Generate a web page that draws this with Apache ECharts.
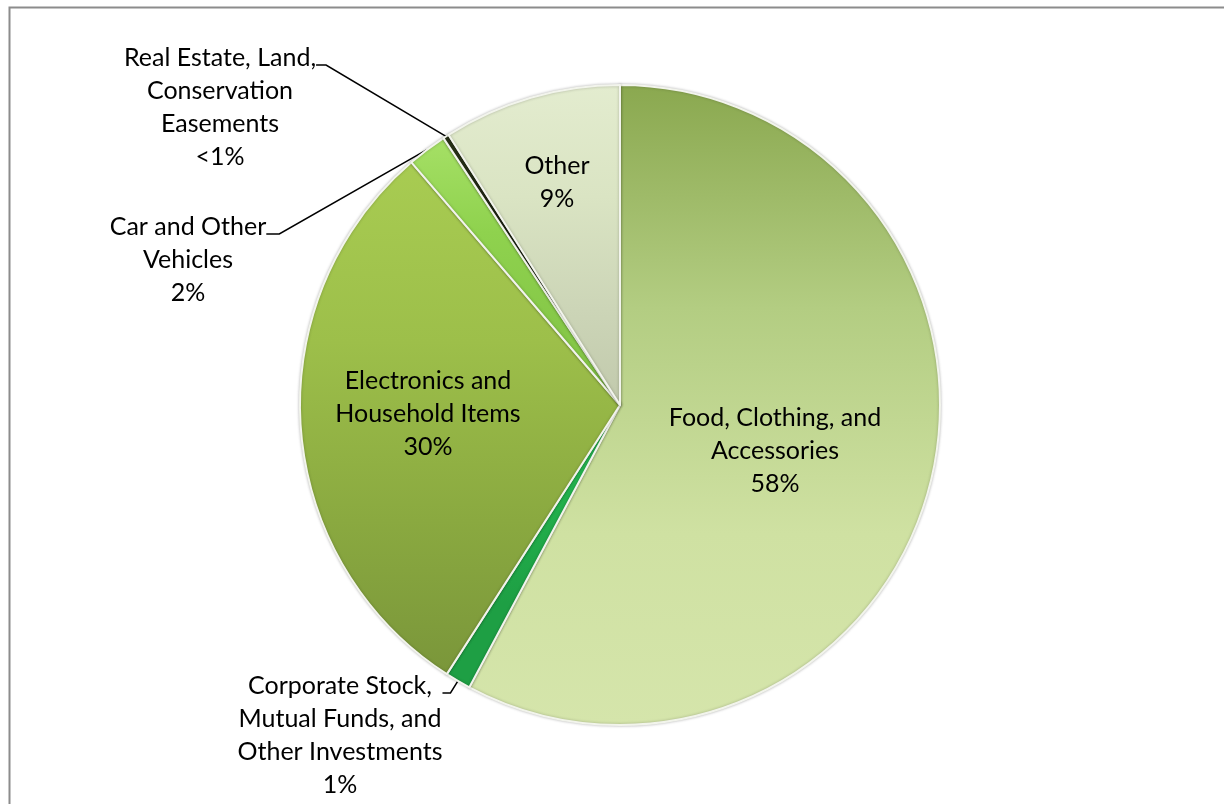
<!DOCTYPE html>
<html><head><meta charset="utf-8">
<script src="https://cdn.jsdelivr.net/npm/echarts@6/dist/echarts.min.js"></script>
<style>html,body{margin:0;padding:0;background:#fff}#c{width:1224px;height:804px}</style>
</head><body><div id="c"></div>
<script>
// ---- data ----
const categories = [
  'Food, Clothing, and Accessories',
  'Corporate Stock, Mutual Funds, and Other Investments',
  'Electronics and Household Items',
  'Car and Other Vehicles',
  'Real Estate, Land, Conservation Easements',
  'Other'
];
const values = [57.8, 1.3, 29.6, 2.0, 0.3, 9.0];
const percentLabels = ['58%', '1%', '30%', '2%', '<1%', '9%'];
const labelTextLines = [
  ['Food, Clothing, and', 'Accessories'],
  ['Corporate Stock,', 'Mutual Funds, and', 'Other Investments'],
  ['Electronics and', 'Household Items'],
  ['Car and Other', 'Vehicles'],
  ['Real Estate, Land,', 'Conservation', 'Easements'],
  ['Other']
];

// ---- styles / layout (kept separate from data) ----
const sliceGradients = [
  ['#8aa84f', '#b3cd82', '#cfe1a2', '#d5e5ab'],
  ['#2cc158', '#22b04c', '#1e9f44', '#1e9f44'],
  ['#a8cc52', '#9dbf4a', '#8aa940', '#7a963a'],
  ['#a6e066', '#8fd24e', '#86c848', '#86c848'],
  ['#2b3519', '#1e2612', '#1e2612', '#1e2612'],
  ['#e3eccf', '#dae4c3', '#ccd5b7', '#c1c9ac']
];
const insideSlices = [true, false, true, false, false, true];
// label anchor (block centre for inside labels, leader-line level for outside labels)
const labelAnchors = [[775, 451], [340, 693], [428, 414], [188, 234], [220, 65], [557, 182]];
const leaderLen2 = [0, 8, 0, 13, 10, 0];
const LH = 33;
const FS = 25;
const FONT = 'Lato';

function grad(c) {
  return new echarts.graphic.LinearGradient(0, 0, 0, 1, [
    { offset: 0, color: c[0] }, { offset: 0.35, color: c[1] },
    { offset: 0.7, color: c[2] }, { offset: 1, color: c[3] }
  ]);
}

const seriesData = categories.map((name, i) => {
  const lines = labelTextLines[i].concat([percentLabels[i]]);
  const item = {
    name: name,
    value: values[i],
    itemStyle: { color: grad(sliceGradients[i]) }
  };
  if (insideSlices[i]) {
    item.label = { position: 'inside', formatter: lines.join('\n') };
    item.labelLine = { show: false };
  } else {
    const n = lines.length;
    item.label = {
      position: 'outside',
      formatter: '{sp| }\n' + lines.map(l => '{t|' + l + '}').join('\n'),
      rich: {
        sp: { lineHeight: (n - 1) * LH - 14, fontSize: 1 },
        t: { lineHeight: LH, fontSize: FS, fontFamily: FONT, color: '#000', align: 'center' }
      }
    };
    item.labelLine = {
      show: true, length: 10, length2: leaderLen2[i], smooth: false,
      lineStyle: { color: '#000', width: 1.5 }
    };
  }
  return item;
});

const chart = echarts.init(document.getElementById('c'), null, { renderer: 'canvas' });
chart.setOption({
  backgroundColor: '#ffffff',
  animation: false,
  graphic: [{
    type: 'rect', silent: true, z: -1,
    shape: { x: 9.5, y: 7.5, width: 1400, height: 1000 },
    style: { fill: 'none', stroke: '#8c8c8c', lineWidth: 2 }
  }],
  series: [{
    type: 'pie',
    center: [620, 405],
    radius: [0, 320],
    startAngle: 90,
    clockwise: true,
    avoidLabelOverlap: false,
    emphasis: { disabled: true },
    itemStyle: {
      borderColor: '#f2f4ec', borderWidth: 2,
      shadowBlur: 3, shadowColor: 'rgba(0,0,0,0.25)'
    },
    label: {
      show: true, color: '#000', fontFamily: FONT, fontSize: FS,
      lineHeight: LH, align: 'center'
    },
    labelLayout: function (p) {
      const a = labelAnchors[p.dataIndex];
      return { x: a[0], y: a[1], align: 'center', verticalAlign: 'middle' };
    },
    data: seriesData
  }]
});
</script>
</body></html>
